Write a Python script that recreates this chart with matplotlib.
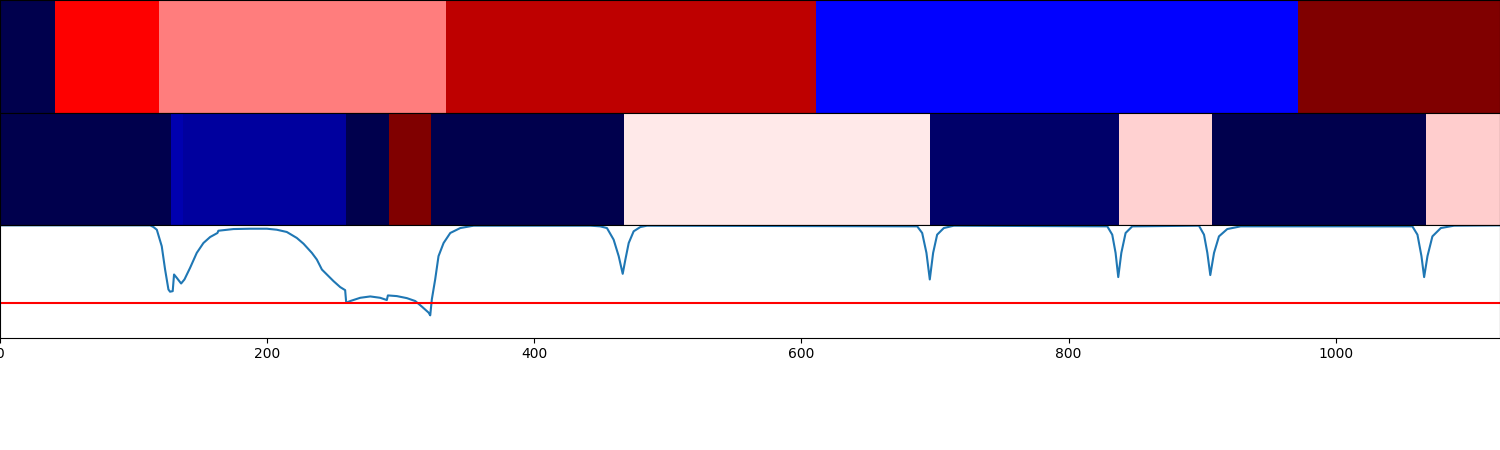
import numpy as np
import matplotlib
matplotlib.use('Agg')
import matplotlib.pyplot as plt

# Segment edges and colour values (seismic, 0..1) for the two label strips
top_edges = [0, 41.2, 119.1, 334.1, 611.2, 971.5, 1123]
top_values = [0.0, 0.75, 0.625, 0.875, 0.25, 1.0]

mid_edges = [0, 128.1, 137.3, 259.2, 291.4, 322.8, 467.4, 696.6, 837.5, 907.1, 1067.4, 1123]
mid_values = [0.0, 0.14, 0.115, 0.0, 1.0, 0.0, 0.5225, 0.04, 0.546, 0.0, 0.547]

# Score curve (knots)
score_x = [0, 112.4, 114.9, 117.4, 121.1, 123.6, 126.1, 127.3, 129.3, 130.3, 132.3, 135.6,
           138.1, 142.3, 147.3, 152.3, 157.3, 162.8, 163.5, 174.8, 187.3, 199.8, 207.2,
           214.7, 222.2, 227.2, 233.5, 237.2, 241.0, 249.7, 254.7, 258.4, 259.2, 262.2,
           269.7, 277.2, 284.6, 289.6, 290.4, 297.1, 304.6, 310.9, 315.9, 320.9, 322.1,
           323.3, 325.8, 328.3, 332.1, 337.1, 344.6, 354.6,
           442.0, 449.4, 454.4, 459.4, 463.2, 466.2, 468.2, 470.7, 474.4, 479.4, 484.4,
           686.7, 690.4, 693.6, 696.1, 698.6, 701.6, 706.6, 714.1,
           829.0, 832.7, 835.2, 837.2, 839.5, 842.7, 847.7,
           897.6, 901.4, 903.9, 906.1, 908.9, 912.6, 918.8, 928.8,
           1057.4, 1061.2, 1064.2, 1066.2, 1068.7, 1072.4, 1078.7, 1088.6, 1123]
score_y = [0.997, 0.997, 0.982, 0.958, 0.811, 0.604, 0.427, 0.407, 0.412, 0.560, 0.531, 0.480,
           0.516, 0.619, 0.752, 0.840, 0.893, 0.929, 0.949, 0.964, 0.967, 0.967, 0.958,
           0.938, 0.885, 0.834, 0.752, 0.693, 0.604, 0.501, 0.448, 0.421, 0.309, 0.324,
           0.353, 0.365, 0.353, 0.333, 0.374, 0.368, 0.350, 0.324, 0.274, 0.221, 0.197,
           0.339, 0.516, 0.723, 0.840, 0.929, 0.973, 0.994,
           0.994, 0.988, 0.973, 0.870, 0.723, 0.566, 0.693, 0.840, 0.944, 0.982, 0.994,
           0.988, 0.929, 0.752, 0.516, 0.752, 0.914, 0.973, 0.994,
           0.988, 0.914, 0.752, 0.537, 0.752, 0.929, 0.988,
           0.994, 0.914, 0.752, 0.555, 0.752, 0.899, 0.964, 0.988,
           0.988, 0.914, 0.723, 0.537, 0.723, 0.899, 0.973, 0.994, 0.997]
threshold = 0.31

fig = plt.figure(figsize=(15, 4.5), dpi=100)
ax1 = fig.add_axes([0, 0.75, 1, 0.25])
ax2 = fig.add_axes([0, 0.50, 1, 0.25])
ax3 = fig.add_axes([0, 0.25, 1, 0.25])

xmax = 1123

ax1.pcolormesh(top_edges, [0, 1], [top_values], cmap='seismic', vmin=0, vmax=1)
ax2.pcolormesh(mid_edges, [0, 1], [mid_values], cmap='seismic', vmin=0, vmax=1)
for ax in (ax1, ax2):
    ax.set_xlim(0, xmax)
    ax.set_ylim(0, 1)
    ax.set_xticks([])
    ax.set_yticks([])

ax3.plot(score_x, score_y)
ax3.axhline(threshold, color='r')
ax3.set_xlim(0, xmax)
ax3.set_ylim(0, 1)
ax3.set_yticks([])

fig.savefig('out.png')
